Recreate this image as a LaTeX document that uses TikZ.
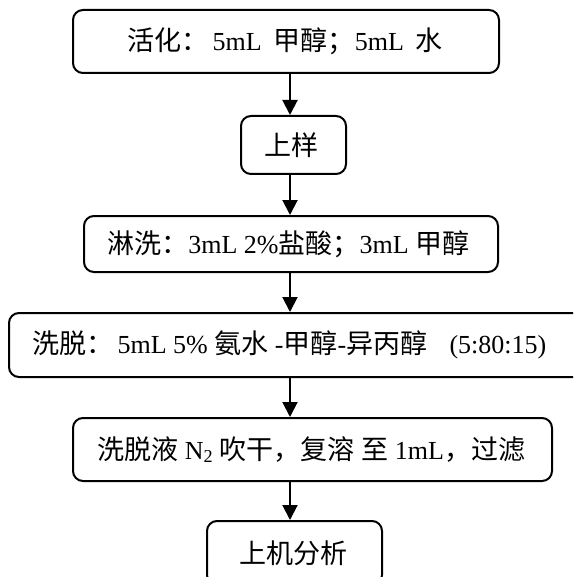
\documentclass[tikz,border=0pt]{standalone}
\usepackage{fontspec}
\setmainfont{Liberation Serif}
\newfontfamily\cjk[Scale=1.04]{Noto Sans CJK SC}
\usetikzlibrary{arrows.meta}
\tikzset{
  stepbox/.style={draw=black, line width=2pt, rounded corners=10pt, inner sep=0pt, fill=white},
  lbl/.style={font=\fontsize{26}{30}\selectfont, inner sep=0pt, anchor=west},
  arr/.style={line width=2pt, -{Triangle[width=15pt,length=15pt]}}
}
\begin{document}
\begin{tikzpicture}[x=1pt,y=-1pt]
\clip (0,0) rectangle (573,577);
\fill[white] (0,0) rectangle (573,577);
\coordinate (ax) at (290,0);
% boxes
\node[stepbox, minimum width=426pt, minimum height=63pt] (b1) at (286,41.5) {};
\node[lbl] (t1) at (127,41.5) {{\cjk 活化：}\,5mL\hspace{12pt}{\cjk 甲醇；}5mL\hspace{12pt}{\cjk 水}};
\node[stepbox, minimum width=105pt, minimum height=58pt] (b2) at (293.5,145) {};
\node[lbl] (t2) at (264,145) {\cjk 上样};
\node[stepbox, minimum width=414pt, minimum height=56pt] (b3) at (291,244) {};
\node[lbl] (t3) at (107,244) {{\cjk 淋洗：}3mL 2\%{\cjk 盐酸；}3mL {\cjk 甲醇}};
\node[stepbox, minimum width=620pt, minimum height=64pt] (b4) at (319,345) {};
\node[lbl] (t4) at (32,345) {{\cjk 洗脱：}\,5mL 5\% {\cjk 氨水} -{\cjk 甲醇}-{\cjk 异丙醇}\hspace{22pt}(5:80:15)};
\node[stepbox, minimum width=479pt, minimum height=63pt] (b5) at (312.5,449.5) {};
\node[lbl] (t5) at (97,449.5) {{\cjk 洗脱液} N\textsubscript{2} {\cjk 吹干，复溶} {\cjk 至} 1mL{\cjk ，过滤}};
\node[stepbox, minimum width=175pt, minimum height=64pt] (b6) at (294.5,553) {};
\node[lbl] (t6) at (239,553) {\cjk 上机分析};
% arrows
\draw[arr] (b1.south -| ax) -- (b2.north -| ax);
\draw[arr] (b2.south -| ax) -- (b3.north -| ax);
\draw[arr] (b3.south -| ax) -- (b4.north -| ax);
\draw[arr] (b4.south -| ax) -- (b5.north -| ax);
\draw[arr] (b5.south -| ax) -- (b6.north -| ax);
\end{tikzpicture}
\end{document}
